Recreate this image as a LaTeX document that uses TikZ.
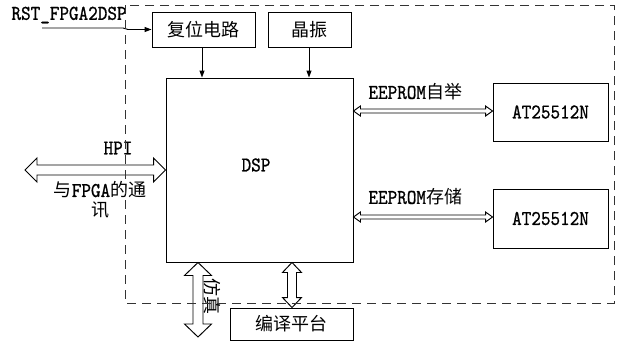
\documentclass[tikz,border=0pt]{standalone}
\usepackage{fontspec}
\setmainfont{Noto Sans CJK SC}
\newfontfamily\lat[FakeStretch=0.87,FakeBold=0.8]{lmmono10-regular.otf}
\usetikzlibrary{calc,arrows.meta}
% hollow double-headed block arrow: #1 start, #2 end, #3 head length, #4 head half width, #5 shaft half width
\newcommand\hollowarr[5]{%
  \draw (#1) -- ($(#1)!#3!(#2)!#4!90:(#2)$) -- ($(#1)!#3!(#2)!#5!90:(#2)$)
   -- ($(#2)!#3!(#1)!#5!-90:(#1)$) -- ($(#2)!#3!(#1)!#4!-90:(#1)$) -- (#2)
   -- ($(#2)!#3!(#1)!#4!90:(#1)$) -- ($(#2)!#3!(#1)!#5!90:(#1)$)
   -- ($(#1)!#3!(#2)!#5!-90:(#2)$) -- ($(#1)!#3!(#2)!#4!-90:(#2)$) -- cycle;}
\newcommand\ltx[1]{{\lat\fontsize{21}{21}\selectfont #1}}
\tikzset{
  blk/.style={draw, inner sep=0pt, font=\fontsize{18}{18}\selectfont},
  txt/.style={inner sep=0pt, font=\fontsize{18}{18}\selectfont},
  sig/.style={-{Triangle[length=7pt,width=5pt]}},
  frame/.style={draw=black!80, dash pattern=on 9pt off 6pt, line width=1pt},
}
\begin{document}
\begin{tikzpicture}[x=1pt,y=-1pt,line width=0.95pt]
\fill[white] (0,0) rectangle (623,343);
\useasboundingbox (0,0) rectangle (623,343);

% blocks
\node[blk, minimum width=103pt, minimum height=35pt] (rst) at (203.5,29.5) {复位电路};
\node[blk, minimum width=83pt, minimum height=35pt] (osc) at (309.5,29.5) {晶振};
\node[blk, minimum width=187pt, minimum height=184pt] (dsp) at (259.5,170) {};
\node[txt] (dsplbl) at (256,165) {\ltx{DSP}};
\node[blk, minimum width=115pt, minimum height=58pt] (at1) at (550.5,112) {\ltx{AT25512N}};
\node[blk, minimum width=115pt, minimum height=59pt] (at2) at (550.5,218.5) {\ltx{AT25512N}};
\node[blk, minimum width=123pt, minimum height=32pt] (cmp) at (291.5,324) {编译平台};

% reset signal
\node[txt, anchor=west] (rstlbl) at (11,15) {\ltx{RST\_FPGA2DSP}};
\coordinate (r0) at (42,28);
\coordinate (r1) at (123,28);
\coordinate (r2) at (128,29.5);
\draw[sig] (r0) -- (r1) -- (r2) -- (rst.west);

% clock/reset to DSP
\draw[sig] (rst.south -| 202,0) -- (dsp.north -| 202,0);
\draw[sig] (osc.south -| 309,0) -- (dsp.north -| 309,0);

% EEPROM links
\coordinate (e1a) at (dsp.east |- 0,111);
\coordinate (e1b) at (at1.west |- 0,111);
\coordinate (e2a) at (dsp.east |- 0,217);
\coordinate (e2b) at (at2.west |- 0,217);
\hollowarr{e1a}{e1b}{7pt}{5pt}{2pt}
\hollowarr{e2a}{e2b}{7pt}{5pt}{2pt}
\node[txt, anchor=west] (l1) at (368,92) {\ltx{EEPROM}自举};
\node[txt, anchor=west] (l2) at (368,197) {\ltx{EEPROM}存储};

% HPI
\coordinate (h0) at (25,170);
\coordinate (h1) at (dsp.west |- 0,170);
\hollowarr{h0}{h1}{12pt}{12pt}{5pt}
\node[txt] (hpi) at (118,148) {\ltx{HPI}};
\node[txt] (fp1) at (100,190) {与\ltx{FPGA}的通};
\node[txt] (fp2) at (100,210) {讯};

% bottom links
\coordinate (b0) at (dsp.south -| 198,0);
\coordinate (b1) at (198,337);
\hollowarr{b0}{b1}{13pt}{13.5pt}{5pt}
\node[txt, rotate=-90] (emu) at (212,296) {仿真};
\coordinate (c0) at (dsp.south -| 292,0);
\coordinate (c1) at (cmp.north -| 292,0);
\hollowarr{c0}{c1}{10pt}{9.5pt}{4.5pt}

% dashed frame
\draw[frame] (125,5) rectangle (614,303);
\end{tikzpicture}
\end{document}
